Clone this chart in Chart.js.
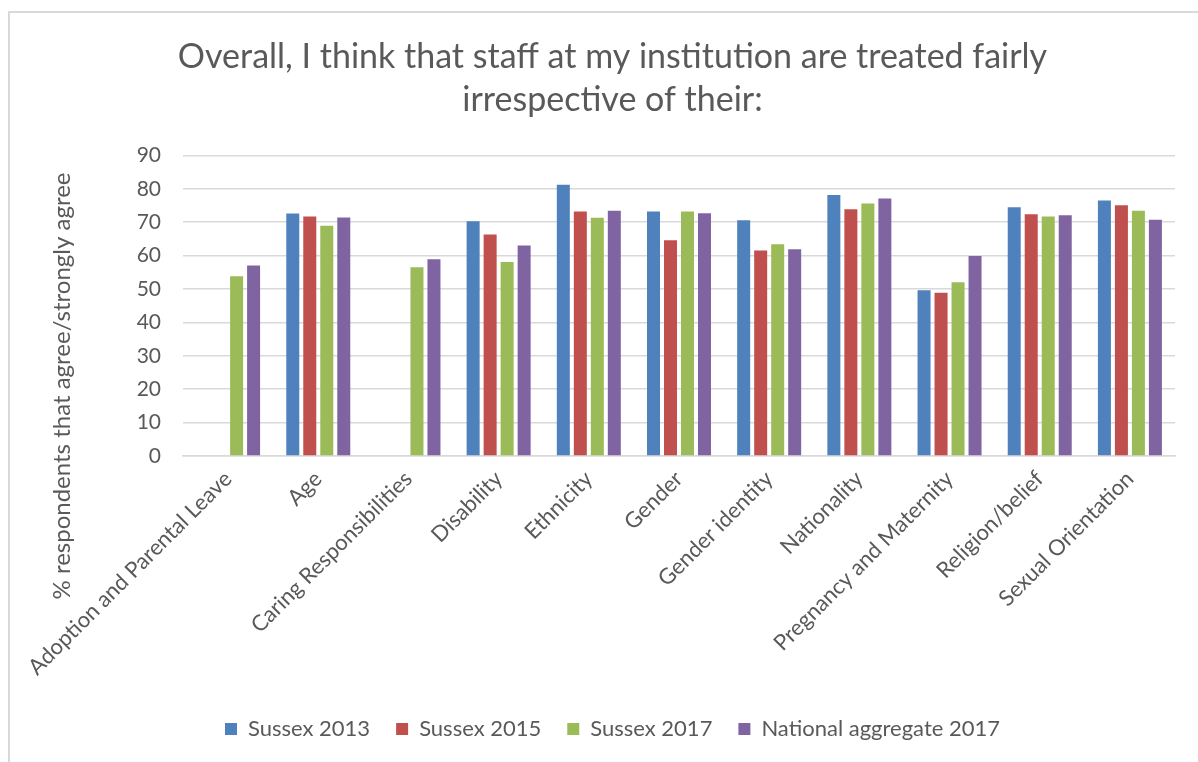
<!DOCTYPE html>
<html>
<head>
<meta charset="utf-8">
<script src="https://cdn.jsdelivr.net/npm/chart.js@4.4.1/dist/chart.umd.min.js"></script>
<style>
  body { margin: 0; background: #fff; }
  #frame {
    position: absolute; left: 8px; top: 11px; width: 1190px; height: 751px;
    border-top: 2px solid #d9d9d9; border-left: 2px solid #d9d9d9;
  }
  #survey { position: absolute; left: 0; top: 0; }
</style>
</head>
<body>
<div id="frame"></div>
<canvas id="survey" width="1198" height="762"></canvas>
<script>
var categories = [
    "Adoption and Parental Leave", "Age", "Caring Responsibilities", "Disability",
    "Ethnicity", "Gender", "Gender identity", "Nationality",
    "Pregnancy and Maternity", "Religion/belief", "Sexual Orientation"
];
var sussex2013 = [null, 72.6, null, 70.3, 81.2, 73.2, 70.6, 78.1, 49.6, 74.5, 76.5];
var sussex2015 = [null, 71.7, null, 66.3, 73.2, 64.6, 61.5, 73.9, 48.9, 72.4, 75.1];
var sussex2017 = [53.8, 68.9, 56.5, 58.1, 71.3, 73.2, 63.4, 75.6, 52.0, 71.7, 73.4];
var national2017 = [57.0, 71.4, 58.9, 63.0, 73.4, 72.7, 61.9, 77.1, 59.9, 72.1, 70.7];
var yTicks = [0, 10, 20, 30, 40, 50, 60, 70, 80, 90];

var FONT = "Lato, 'Open Sans', sans-serif";
var TEXT = "#595959";

// vertical axis caption, drawn by hand so it can sit lower than the plot centre
var yCaption = {
    id: "yCaption",
    afterDraw: function (chart) {
        var ctx = chart.ctx;
        ctx.save();
        ctx.translate(62, 386);
        ctx.rotate(-Math.PI / 2);
        ctx.font = "24px " + FONT;
        ctx.fillStyle = TEXT;
        ctx.textAlign = "center";
        ctx.textBaseline = "middle";
        ctx.fillText("% respondents that agree/strongly agree", 0, 0);
        ctx.restore();
    }
};

var ctx = document.getElementById("survey").getContext("2d");
var chart = new Chart(ctx, {
    type: "bar",
    data: {
        labels: categories,
        datasets: [
            { label: "Sussex 2013", data: sussex2013, backgroundColor: "#4F81BD" },
            { label: "Sussex 2015", data: sussex2015, backgroundColor: "#C0504D" },
            { label: "Sussex 2017", data: sussex2017, backgroundColor: "#9BBB59" },
            { label: "National aggregate 2017", data: national2017, backgroundColor: "#8064A2" }
        ]
    },
    options: {
        responsive: false,
        animation: false,
        layout: {
            padding: { left: 50, right: 23, top: 25, bottom: 12 }
        },
        datasets: {
            bar: { categoryPercentage: 0.754, barPercentage: 0.765 }
        },
        plugins: {
            title: {
                display: true,
                text: ["Overall, I think that staff at my institution are treated fairly", "irrespective of their:"],
                color: TEXT,
                font: { family: FONT, size: 34, weight: "normal", lineHeight: 1.27 },
                padding: { top: 10, bottom: 34 }
            },
            legend: {
                position: "bottom",
                labels: {
                    color: TEXT,
                    font: { family: FONT, size: 22 },
                    boxWidth: 12,
                    boxHeight: 12,
                    padding: 26
                }
            },
            tooltip: { enabled: false }
        },
        scales: {
            y: {
                min: 0,
                max: 90,
                afterFit: function (scale) { scale.width = 133; },
                afterBuildTicks: function (scale) {
                    scale.ticks = yTicks.map(function (v) { return { value: v }; });
                },
                border: { display: false },
                grid: { color: "#d9d9d9", lineWidth: 1.5, drawTicks: false },
                ticks: {
                    color: TEXT,
                    padding: 22,
                    font: { family: FONT, size: 21 }
                }
            },
            x: {
                afterFit: function (scale) { scale.height = 236; },
                border: { color: "#d9d9d9", width: 1.5 },
                grid: { display: false },
                ticks: {
                    color: TEXT,
                    minRotation: 45,
                    maxRotation: 45,
                    padding: 2,
                    font: { family: FONT, size: 22 }
                }
            }
        }
    },
    plugins: [yCaption]
});
</script>
</body>
</html>
